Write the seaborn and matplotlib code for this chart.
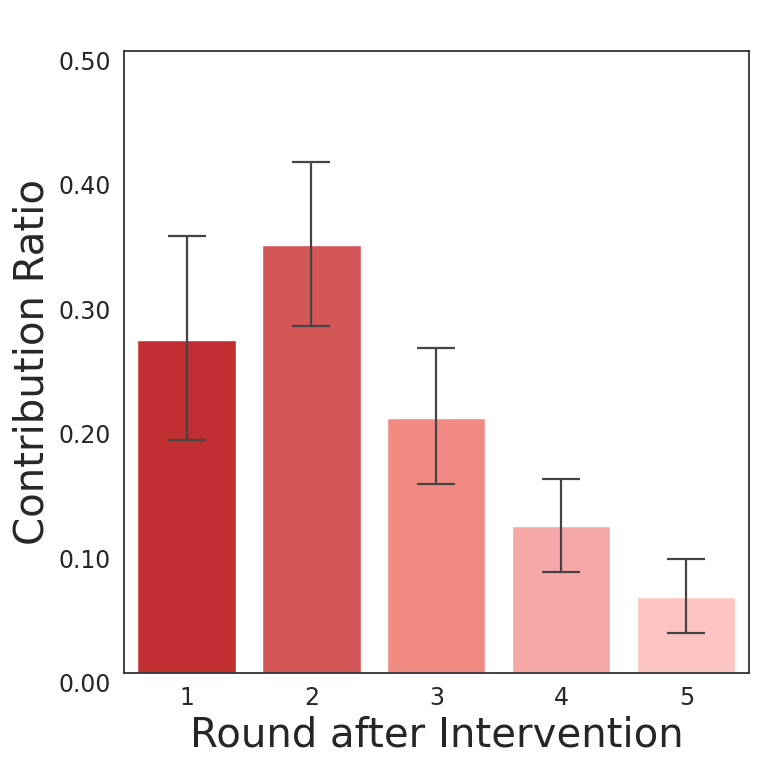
import numpy as np
import pandas as pd
import matplotlib
matplotlib.use('Agg')
import matplotlib.pyplot as plt
import seaborn as sns

# Values
rounds = ['1', '2', '3', '4', '5']
ratio_mean = [0.268, 0.344, 0.205, 0.118, 0.061]
ratio_low = [0.187, 0.279, 0.152, 0.081, 0.032]
ratio_high = [0.351, 0.411, 0.261, 0.156, 0.0915]
bar_colors = ['#c03032', '#d45656', '#f08a82', '#f6a7a7', '#fcc4c1']

df = pd.DataFrame({'round': rounds, 'ratio': ratio_mean})

sns.set_theme(style='white')
plt.rcParams['font.family'] = ['DejaVu Sans']

fig, ax = plt.subplots(figsize=(7.61, 7.67), dpi=100)
fig.subplots_adjust(left=0.163, right=0.984, top=0.9335, bottom=0.1226)

sns.barplot(data=df, x='round', y='ratio', hue='round', palette=bar_colors,
            legend=False, errorbar=None, width=0.785, saturation=1, ax=ax)

mean = np.array(ratio_mean)
yerr = [mean - np.array(ratio_low), np.array(ratio_high) - mean]
ax.errorbar(np.arange(len(rounds)), mean, yerr=yerr, fmt='none',
            ecolor='#444444', elinewidth=1.6, capsize=14, capthick=1.6)

ax.set_xlim(-0.5, 4.5)
ax.set_ylim(0, 0.5)
ax.set_yticks([0.0, 0.1, 0.2, 0.3, 0.4, 0.5])
ax.set_yticklabels(['%.2f' % v for v in [0.0, 0.1, 0.2, 0.3, 0.4, 0.5]])
for lab in ax.get_yticklabels():
    lab.set_va('top')
ax.tick_params(labelsize=17)

ax.set_xlabel('Round after Intervention', fontsize=29)
ax.set_ylabel('Contribution Ratio', fontsize=29)

for sp in ax.spines.values():
    sp.set_color('#333333')
    sp.set_linewidth(1.3)

fig.savefig('out.png', dpi=100)
